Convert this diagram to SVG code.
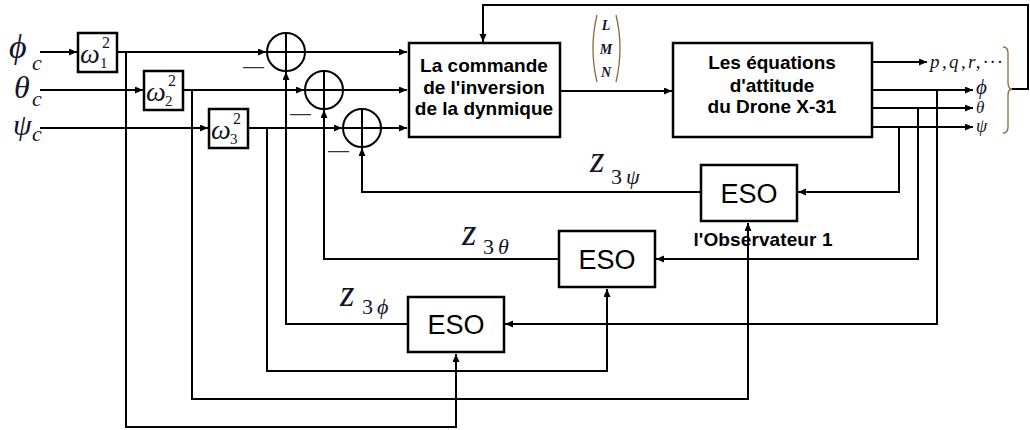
<svg xmlns="http://www.w3.org/2000/svg" width="1030" height="430" viewBox="0 0 1030 430">
<style>
.ln{fill:none;stroke:#000;stroke-width:2}
.box{fill:#fff;stroke:#000;stroke-width:2.5}
.sum{fill:none;stroke:#000;stroke-width:2}
.bt{font-family:"Liberation Sans",Arial,sans-serif;font-weight:bold;font-size:19px;text-anchor:middle;fill:#000}
.eso{font-family:"Liberation Sans",Arial,sans-serif;font-size:27px;text-anchor:middle;fill:#000}
.m{font-family:"Liberation Serif","Times New Roman",serif;font-style:italic;fill:#141428}
.minus{font-family:"Liberation Sans",Arial,sans-serif;font-size:21px;fill:#333}
.delim{fill:none;stroke:#8a6a3a;stroke-width:1.3}
</style>
<defs>
<marker id="ah" markerWidth="9" markerHeight="8" refX="8" refY="3.5" orient="auto" markerUnits="userSpaceOnUse"><path d="M0,0 L8,3.5 L0,7 z" fill="#000"/></marker>
</defs>

<g id="connectors">
<path class="ln" d="M40,52 H77" marker-end="url(#ah)"/>
<path class="ln" d="M40,90 H143" marker-end="url(#ah)"/>
<path class="ln" d="M40,128 H208" marker-end="url(#ah)"/>
<path class="ln" d="M117,52 H266" marker-end="url(#ah)"/>
<path class="ln" d="M183,90 H304" marker-end="url(#ah)"/>
<path class="ln" d="M248,128 H342" marker-end="url(#ah)"/>
<path class="ln" d="M126,52 V427 H456 V354" marker-end="url(#ah)"/>
<path class="ln" d="M192,90 V399 H748 V223" marker-end="url(#ah)"/>
<path class="ln" d="M267,128 V371 H607 V289" marker-end="url(#ah)"/>
<path class="ln" d="M305,52 H407" marker-end="url(#ah)"/>
<path class="ln" d="M343,90 H407" marker-end="url(#ah)"/>
<path class="ln" d="M381,128 H407" marker-end="url(#ah)"/>
<path class="ln" d="M560,91 H672" marker-end="url(#ah)"/>
<path class="ln" d="M872,62 H927" marker-end="url(#ah)"/>
<path class="ln" d="M872,90 H973" marker-end="url(#ah)"/>
<path class="ln" d="M872,108 H973" marker-end="url(#ah)"/>
<path class="ln" d="M872,127 H973" marker-end="url(#ah)"/>
<path class="ln" d="M1012,89 H1028 V5 H483 V42" marker-end="url(#ah)"/>
<path class="ln" d="M899,127 V192 H798" marker-end="url(#ah)"/>
<path class="ln" d="M918,108 V259 H656" marker-end="url(#ah)"/>
<path class="ln" d="M937,90 V324 H505" marker-end="url(#ah)"/>
<path class="ln" d="M701,192 H362 V148" marker-end="url(#ah)"/>
<path class="ln" d="M559,259 H324 V110" marker-end="url(#ah)"/>
<path class="ln" d="M408,324 H286 V72" marker-end="url(#ah)"/>
</g>

<g id="inputs">
<text class="m" x="9" y="58" font-size="34">ϕ<tspan x="32" y="70" font-size="22">c</tspan></text>
<text class="m" x="14" y="98" font-size="32">θ<tspan x="32" y="106" font-size="22">c</tspan></text>
<text class="m" x="13" y="135" font-size="30">ψ<tspan x="32" y="141" font-size="22">c</tspan></text>
</g>

<g id="omega1">
<rect class="box" x="78" y="33" width="39" height="39"/>
<text class="m" x="80" y="63" font-size="28">ω<tspan x="102" y="48" font-size="16" font-style="normal">2</tspan><tspan x="100" y="68" font-size="15" font-style="normal">1</tspan></text>
</g>
<g id="omega2">
<rect class="box" x="144" y="71" width="39" height="39"/>
<text class="m" x="146" y="101" font-size="28">ω<tspan x="168" y="86" font-size="16" font-style="normal">2</tspan><tspan x="165" y="106" font-size="15" font-style="normal">2</tspan></text>
</g>
<g id="omega3">
<rect class="box" x="209" y="109" width="39" height="39"/>
<text class="m" x="211" y="139" font-size="28">ω<tspan x="233" y="124" font-size="16" font-style="normal">2</tspan><tspan x="230" y="144" font-size="15" font-style="normal">3</tspan></text>
</g>

<g id="sum1">
<circle class="sum" cx="286" cy="52" r="19"/>
<path class="ln" d="M267,52 H305 M286,33 V71"/>
<text class="minus" x="243" y="73">—</text>
</g>
<g id="sum2">
<circle class="sum" cx="324" cy="90" r="19"/>
<path class="ln" d="M305,90 H343 M324,71 V109"/>
<text class="minus" x="290" y="120">—</text>
</g>
<g id="sum3">
<circle class="sum" cx="362" cy="128" r="19"/>
<path class="ln" d="M343,128 H381 M362,109 V147"/>
<text class="minus" x="328" y="157">—</text>
</g>

<g id="commande">
<rect class="box" x="409" y="43" width="151" height="94"/>
<text class="bt" x="484" y="72">La commande</text>
<text class="bt" x="484" y="94">de l'inversion</text>
<text class="bt" x="484" y="115">de la dynmique</text>
</g>

<g id="lmn">
<path class="delim" d="M597,15 Q589,48 597,82"/>
<path class="delim" d="M616,15 Q624,48 616,82"/>
<text class="m" x="606" y="30" font-size="14" font-weight="bold" text-anchor="middle">L</text>
<text class="m" x="606" y="54" font-size="14" font-weight="bold" text-anchor="middle">M</text>
<text class="m" x="606" y="77" font-size="14" font-weight="bold" text-anchor="middle">N</text>
</g>

<g id="equations">
<rect class="box" x="673" y="43" width="199" height="94"/>
<text class="bt" x="772" y="69">Les équations</text>
<text class="bt" x="772" y="92">d'attitude</text>
<text class="bt" x="772" y="113">du Drone X-31</text>
</g>

<g id="outputs">
<text class="m" x="930" y="68" font-size="19" textLength="72">p,q,r,···</text>
<text class="m" x="976" y="94" font-size="21">ϕ</text>
<text class="m" x="976" y="113" font-size="17">θ</text>
<text class="m" x="976" y="132" font-size="18">ψ</text>
<path class="delim" d="M1003,47 Q1008,47 1008,53 V82 Q1008,89 1012,89 Q1008,89 1008,96 V127 Q1008,133 1003,133"/>
</g>

<g id="eso_psi">
<rect class="box" x="701" y="165" width="96" height="56"/>
<text class="eso" x="749" y="203">ESO</text>
</g>
<g id="eso_theta">
<rect class="box" x="559" y="231" width="96" height="56"/>
<text class="eso" x="607" y="269">ESO</text>
</g>
<g id="eso_phi">
<rect class="box" x="408" y="297" width="96" height="55"/>
<text class="eso" x="456" y="334">ESO</text>
</g>

<g id="labels">
<text class="m" x="590" y="172" font-size="37">z<tspan x="611" y="184" font-size="22" font-style="normal">3</tspan><tspan x="626" y="184" font-size="22">ψ</tspan></text>
<text class="m" x="462" y="245" font-size="37">z<tspan x="483" y="254" font-size="22" font-style="normal">3</tspan><tspan x="498" y="254" font-size="22">θ</tspan></text>
<text class="m" x="340" y="306" font-size="37">z<tspan x="362" y="314" font-size="22" font-style="normal">3</tspan><tspan x="377" y="314" font-size="22">ϕ</tspan></text>
<text class="bt" x="763" y="246" text-anchor="start" font-size="17" textLength="139">l'Observateur 1</text>
</g>
</svg>
